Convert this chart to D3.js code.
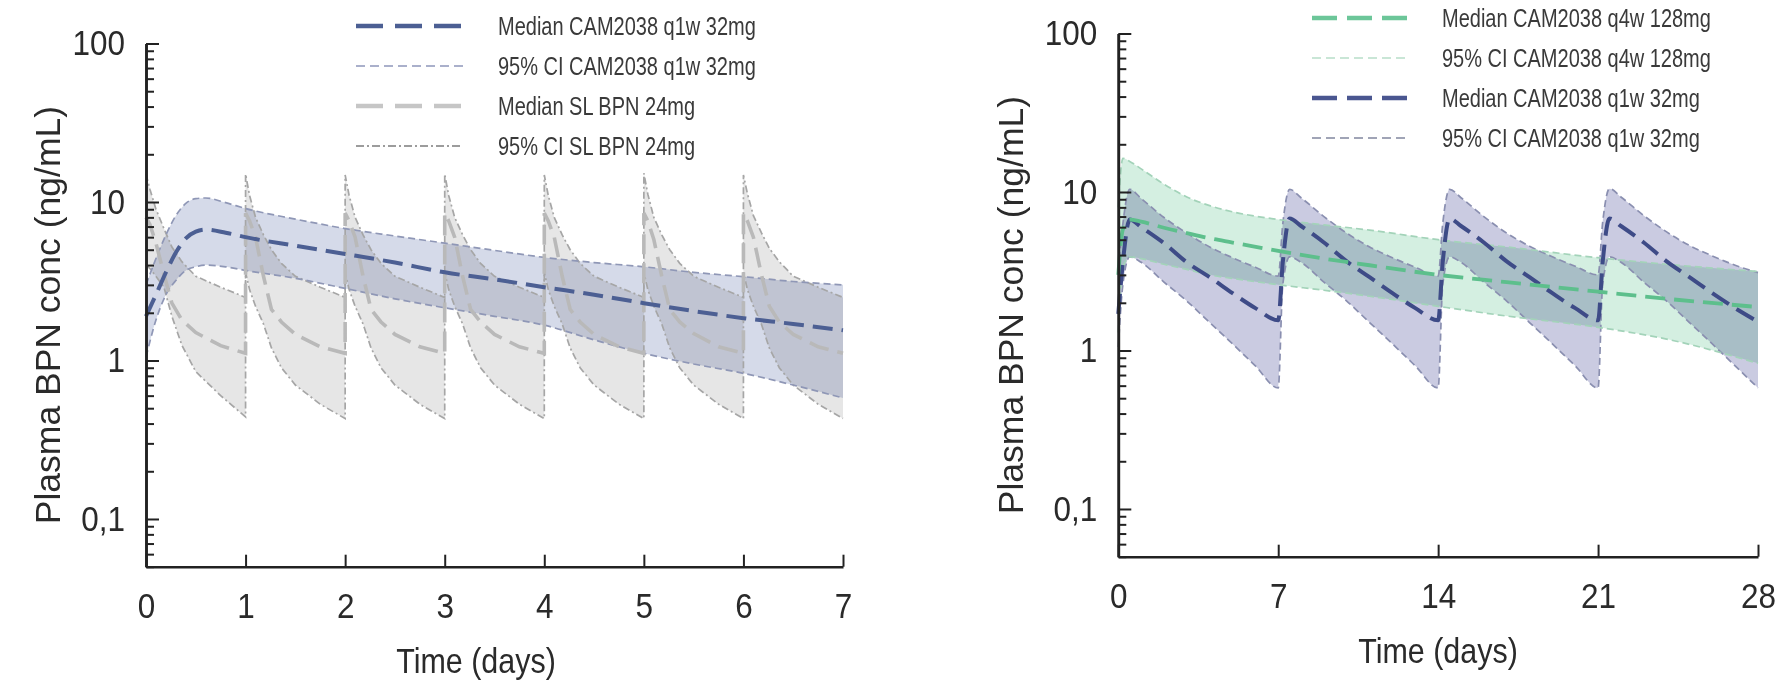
<!DOCTYPE html>
<html>
<head>
<meta charset="utf-8">
<script src="https://cdn.jsdelivr.net/npm/d3@7"></script>
<style>
  html, body { margin: 0; padding: 0; background: #fff; }
  svg { display: block; font-family: "Liberation Sans", Arial, sans-serif; }
</style>
</head>
<body>
<svg id="chart" width="1791" height="685"></svg>
<script>
// ---- left panel: one week, SL BPN 24 mg daily vs CAM2038 q1w 32 mg ----
var slTime = [
  0, 0.04, 0.1, 0.18, 0.26, 0.36, 0.5, 0.75,
  1, 1, 1.04, 1.1, 1.18, 1.26, 1.36, 1.5, 1.75,
  2, 2, 2.04, 2.1, 2.18, 2.26, 2.36, 2.5, 2.75,
  3, 3, 3.04, 3.1, 3.18, 3.26, 3.36, 3.5, 3.75,
  4, 4, 4.04, 4.1, 4.18, 4.26, 4.36, 4.5, 4.75,
  5, 5, 5.04, 5.1, 5.18, 5.26, 5.36, 5.5, 5.75,
  6, 6, 6.04, 6.1, 6.18, 6.26, 6.36, 6.5, 6.75,
  7];
var slUpper = [
  15, 12, 9, 6.8, 5.2, 4.2, 3.4, 2.9,
  2.5, 15, 11, 8, 6.2, 5.0, 4.1, 3.4, 2.9,
  2.5, 14.8, 11, 8, 6.2, 5.0, 4.1, 3.4, 2.9,
  2.5, 15, 11, 8, 6.2, 5.0, 4.1, 3.4, 2.9,
  2.5, 14.8, 11, 8, 6.2, 5.0, 4.1, 3.4, 2.9,
  2.5, 15.2, 11.2, 8, 6.2, 5.0, 4.1, 3.4, 2.9,
  2.5, 14.8, 11.3, 8.2, 6.4, 5.1, 4.2, 3.4, 2.9,
  2.5];
var slMedian = [
  8.0, 7.2, 5.5, 3.5, 2.3, 1.8, 1.5, 1.24,
  1.11, 8.5, 7.6, 6.0, 3.4, 2.1, 1.75, 1.46, 1.22,
  1.11, 8.5, 7.6, 6.0, 3.4, 2.1, 1.75, 1.46, 1.22,
  1.11, 8.5, 7.6, 6.0, 3.4, 2.1, 1.75, 1.46, 1.22,
  1.11, 8.5, 7.6, 6.0, 3.4, 2.1, 1.75, 1.46, 1.22,
  1.11, 8.5, 7.6, 5.8, 3.4, 2.1, 1.75, 1.48, 1.22,
  1.11, 8.5, 7.6, 6.0, 3.5, 2.2, 1.75, 1.46, 1.22,
  1.11];
var slLower = [
  4.0, 3.8, 3.4, 2.9, 1.9, 1.25, 0.85, 0.6,
  0.44, 3.6, 2.8, 2.2, 1.7, 1.2, 0.9, 0.7, 0.53,
  0.43, 3.6, 2.8, 2.2, 1.7, 1.2, 0.9, 0.7, 0.53,
  0.43, 3.6, 2.8, 2.2, 1.7, 1.2, 0.9, 0.7, 0.53,
  0.43, 3.6, 2.8, 2.2, 1.7, 1.2, 0.9, 0.7, 0.53,
  0.43, 3.6, 2.8, 2.2, 1.7, 1.2, 0.9, 0.7, 0.53,
  0.43, 3.6, 2.8, 2.2, 1.7, 1.2, 0.9, 0.7, 0.53,
  0.43];

var camWeekTime   = [0, 0.1, 0.2, 0.3, 0.4, 0.5, 0.6, 0.8, 1, 1.5, 2, 2.5, 3, 3.5, 4, 4.5, 5, 5.5, 6, 6.5, 7];
var camWeekMedian = [1.9, 2.6, 3.6, 4.8, 5.9, 6.5, 6.7, 6.4, 6.0, 5.3, 4.7, 4.15, 3.6, 3.25, 2.9, 2.6, 2.3, 2.05, 1.85, 1.7, 1.55];
var camWeekUpper  = [3.0, 4.4, 6.2, 8.2, 9.8, 10.5, 10.6, 9.9, 9.1, 7.8, 6.8, 6.1, 5.5, 4.95, 4.47, 4.15, 3.9, 3.6, 3.38, 3.15, 3.0];
var camWeekLower  = [1.05, 1.8, 2.6, 3.2, 3.7, 3.9, 4.0, 3.9, 3.7, 3.3, 2.85, 2.45, 2.15, 1.9, 1.67, 1.35, 1.11, 0.95, 0.83, 0.7, 0.58];

// ---- right panel: four weeks, CAM2038 q4w 128 mg vs q1w 32 mg ----
var q4wTime   = [0, 0.2, 0.5, 1, 2, 3, 4, 5, 7, 9, 11, 14, 17, 21, 24, 28];
var q4wMedian = [3.0, 5.8, 6.7, 6.5, 5.95, 5.5, 5.1, 4.8, 4.25, 3.8, 3.45, 3.0, 2.7, 2.35, 2.12, 1.88];
var q4wUpper  = [8, 16.3, 15.6, 14, 11.2, 9.3, 8.2, 7.5, 6.7, 6.2, 5.75, 5.0, 4.5, 3.85, 3.5, 3.15];
var q4wLower  = [1.3, 3.3, 3.9, 3.8, 3.5, 3.25, 3.0, 2.85, 2.6, 2.4, 2.2, 1.9, 1.65, 1.4, 1.18, 0.83];

var q1wTime = [0, 0.2, 0.5, 1, 2, 3, 4, 5, 6, 7,
  7.2, 7.5, 8, 9, 10, 11, 12, 13, 14,
  14.2, 14.5, 15, 16, 17, 18, 19, 20, 21,
  21.2, 21.5, 22, 23, 24, 25, 26, 27, 28];
var q1wMedian = [1.7, 3.6, 6.7, 6.0, 4.75, 3.6, 2.9, 2.3, 1.85, 1.55,
  3.6, 6.8, 6.1, 4.8, 3.65, 2.9, 2.3, 1.85, 1.55,
  3.6, 6.8, 6.1, 4.8, 3.65, 2.9, 2.3, 1.85, 1.55,
  3.6, 6.8, 6.1, 4.8, 3.65, 2.9, 2.3, 1.85, 1.52];
var q1wUpper = [3.2, 6.3, 10.4, 9.1, 6.9, 5.5, 4.5, 3.85, 3.35, 2.95,
  6.3, 10.4, 9.2, 7.0, 5.5, 4.5, 3.85, 3.35, 2.95,
  6.3, 10.4, 9.2, 7.0, 5.5, 4.55, 3.9, 3.4, 3.0,
  6.4, 10.5, 9.3, 7.1, 5.6, 4.6, 3.95, 3.45, 3.1];
var q1wLower = [1.05, 2.6, 3.9, 3.6, 2.7, 2.05, 1.5, 1.1, 0.8, 0.58,
  2.6, 3.9, 3.6, 2.7, 2.05, 1.5, 1.1, 0.8, 0.58,
  2.6, 3.9, 3.6, 2.7, 2.05, 1.5, 1.1, 0.8, 0.58,
  2.6, 3.9, 3.6, 2.7, 2.05, 1.5, 1.1, 0.8, 0.58];

var leftXTicks  = [0, 1, 2, 3, 4, 5, 6, 7];
var rightXTicks = [0, 7, 14, 21, 28];
var yMajorTicks = [0.1, 1, 10, 100];

var leftLegend  = ['Median CAM2038 q1w 32mg', '95% CI CAM2038 q1w 32mg', 'Median SL BPN 24mg', '95% CI SL BPN 24mg'];
var rightLegend = ['Median CAM2038 q4w 128mg', '95% CI CAM2038 q4w 128mg', 'Median CAM2038 q1w 32mg', '95% CI CAM2038 q1w 32mg'];

var svg = d3.select('#chart');
svg.append('rect').attr('width', 1791).attr('height', 685).attr('fill', '#fff');

var fmt = d3.formatLocale({decimal: ',', thousands: '.', grouping: [3], currency: ['', '']}).format('~g');

// the source figure's lettering is a little narrow and tall
var squeeze = 0.9;

function styleAxis(g) {
  g.attr('font-family', null).attr('font-size', null);
  g.select('.domain').attr('stroke', '#222').attr('stroke-width', 2.6);
  g.selectAll('.tick line').attr('stroke', '#222').attr('stroke-width', 2);
  g.selectAll('.tick text').attr('fill', '#2a2a2a').style('font-size', '35px')
    .attr('transform', 'scale(' + squeeze + ',1)');
}

function panel(p) {
  var x = d3.scaleLinear().domain(p.xDomain).range([p.left, p.right]);
  var y = d3.scaleLog().domain([0.05, 100]).range([p.bottom, p.top]);
  var g = svg.append('g');

  var rows = p.series.map(function(s) {
    return s.t.map(function(t, i) { return {t: t, lo: s.lower[i], hi: s.upper[i], med: s.median[i]}; });
  });

  // bands
  p.series.forEach(function(s, k) {
    g.append('path').datum(rows[k])
      .attr('d', d3.area().curve(s.curve).x(function(d) { return x(d.t); })
        .y0(function(d) { return y(d.lo); }).y1(function(d) { return y(d.hi); }))
      .attr('fill', s.fill)
      .style('mix-blend-mode', 'multiply');
  });
  // CI edges
  p.series.forEach(function(s, k) {
    ['lo', 'hi'].forEach(function(key) {
      g.append('path').datum(rows[k])
        .attr('d', d3.line().curve(s.curve).x(function(d) { return x(d.t); }).y(function(d) { return y(d[key]); }))
        .attr('fill', 'none').attr('stroke', s.ciColor).attr('stroke-width', 1.7)
        .attr('stroke-dasharray', s.ciDash);
    });
  });
  // medians
  p.series.forEach(function(s, k) {
    g.append('path').datum(rows[k])
      .attr('d', d3.line().curve(s.curve).x(function(d) { return x(d.t); }).y(function(d) { return y(d.med); }))
      .attr('fill', 'none').attr('stroke', s.medColor).attr('stroke-width', s.medWidth)
      .attr('stroke-dasharray', '20,9');
  });

  // axes
  var minor = y.ticks().filter(function(v) { return yMajorTicks.indexOf(v) < 0; });
  g.append('g').attr('transform', 'translate(' + p.left + ',0)')
    .call(d3.axisLeft(y).tickValues(minor).tickSizeInner(-8).tickSizeOuter(0).tickFormat(''))
    .call(styleAxis);
  g.append('g').attr('transform', 'translate(' + p.left + ',0)')
    .call(d3.axisLeft(y).tickValues(yMajorTicks).tickSizeInner(-13).tickSizeOuter(0)
      .tickPadding(21 / squeeze).tickFormat(fmt))
    .call(styleAxis);
  g.append('g').attr('transform', 'translate(0,' + p.bottom + ')')
    .call(d3.axisBottom(x).tickValues(p.xTicks).tickSizeInner(-12).tickSizeOuter(0).tickPadding(26)
      .tickFormat(d3.format('d')))
    .call(styleAxis);

  g.append('text').attr('transform', 'translate(' + p.xTitleX + ',' + (p.bottom + 106) + ') scale(0.87,1)')
    .attr('text-anchor', 'middle').attr('fill', '#2a2a2a').style('font-size', '35px')
    .text('Time (days)');
  g.append('text')
    .attr('transform', 'translate(' + p.yTitleX + ',' + ((p.top + p.bottom) / 2 + 10) + ') rotate(-90)')
    .attr('dy', '0.35em').attr('text-anchor', 'middle').attr('fill', '#2a2a2a').style('font-size', '35.5px')
    .text('Plasma BPN conc (ng/mL)');

  // legend
  var lg = g.append('g');
  p.legend.forEach(function(item, i) {
    var yy = p.legendY + i * 40;
    lg.append('line').attr('x1', p.legendLineX[0]).attr('x2', p.legendLineX[1])
      .attr('y1', yy).attr('y2', yy)
      .attr('stroke', item.color).attr('stroke-width', item.width).attr('stroke-dasharray', item.dash);
    lg.append('text').attr('transform', 'translate(' + p.legendTextX + ',' + yy + ') scale(0.8,1)')
      .attr('dy', '0.35em')
      .attr('fill', '#3a3a3a').style('font-size', '25px').text(item.label);
  });
}

panel({
  left: 146, right: 843, top: 43.5, bottom: 566.7, xDomain: [0, 7], xTicks: leftXTicks,
  yTitleX: 48, xTitleX: 476,
  series: [
    {t: slTime, median: slMedian, upper: slUpper, lower: slLower, curve: d3.curveLinear,
     fill: '#e6e6e6', ciColor: '#a6a6a6', ciDash: '7,3,2,3', medColor: '#b9b9b9', medWidth: 3.6},
    {t: camWeekTime, median: camWeekMedian, upper: camWeekUpper, lower: camWeekLower, curve: d3.curveMonotoneX,
     fill: '#d5dae9', ciColor: '#8f97b6', ciDash: '7,4', medColor: '#4c5f93', medWidth: 4}
  ],
  legendY: 26, legendLineX: [356, 463], legendTextX: 498,
  legend: [
    {label: leftLegend[0], color: '#4c5f93', width: 4.5, dash: '27,12'},
    {label: leftLegend[1], color: '#aab0cb', width: 2, dash: '9,5'},
    {label: leftLegend[2], color: '#c6c6c6', width: 4.5, dash: '27,12'},
    {label: leftLegend[3], color: '#9c9c9c', width: 2, dash: '8,3,2,3'}
  ]
});

panel({
  left: 1118.3, right: 1758, top: 33.5, bottom: 556.7, xDomain: [0, 28], xTicks: rightXTicks,
  yTitleX: 1011, xTitleX: 1438,
  series: [
    {t: q1wTime, median: q1wMedian, upper: q1wUpper, lower: q1wLower, curve: d3.curveMonotoneX,
     fill: '#cacbe1', ciColor: '#8a8fb0', ciDash: '7,4', medColor: '#3e4b87', medWidth: 4},
    {t: q4wTime, median: q4wMedian, upper: q4wUpper, lower: q4wLower, curve: d3.curveMonotoneX,
     fill: '#d4efe1', ciColor: '#a3d3b9', ciDash: '7,4', medColor: '#5dbf8c', medWidth: 3.8}
  ],
  legendY: 18, legendLineX: [1312, 1408], legendTextX: 1442,
  legend: [
    {label: rightLegend[0], color: '#6cc699', width: 4.5, dash: '25,10'},
    {label: rightLegend[1], color: '#c9e6d6', width: 2, dash: '9,5'},
    {label: rightLegend[2], color: '#4a5690', width: 4.5, dash: '25,10'},
    {label: rightLegend[3], color: '#a0a4b6', width: 2, dash: '9,5'}
  ]
});
</script>
</body>
</html>
